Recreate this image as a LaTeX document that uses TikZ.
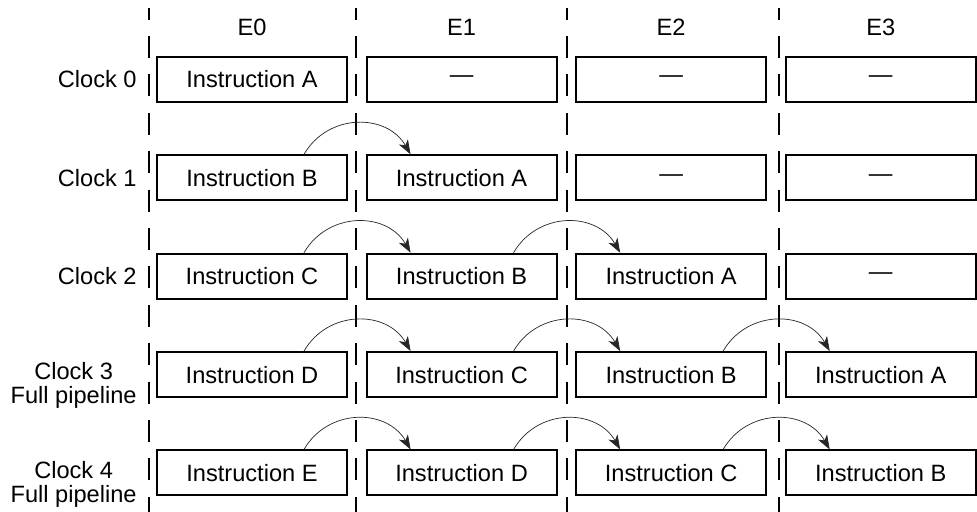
\documentclass[tikz,border=0pt]{standalone}
\usepackage{fontspec}
\setmainfont{Liberation Sans}
\usetikzlibrary{matrix,positioning,arrows.meta}

\begin{document}
\begin{tikzpicture}[font=\fontsize{16.8}{17}\selectfont]

  \tikzstyle{stage} = [draw, rectangle, minimum width=4.75cm, minimum height=1.125cm, line width=1.4pt, inner sep=0pt]
  \tikzstyle{divider} = [line width=1.4pt, dash pattern=on 0.55cm off 0.41cm, dash phase=0.26cm]
  \tikzstyle{hop} = [-{Stealth[length=0.36cm,width=0.26cm,inset=0.1cm]}, line width=0.5pt, black!85]

  \useasboundingbox (0,0) rectangle (24.425,-12.8);

  % stage boundaries
  \draw[divider] (3.725,-0.2) -- (3.725,-12.8);
  \draw[divider] (8.9,-0.2) -- (8.9,-12.8);
  \draw[divider] (14.175,-0.2) -- (14.175,-12.8);
  \draw[divider] (19.475,-0.2) -- (19.475,-12.8);

  \matrix (pipe) [matrix of nodes, column sep=0.44cm, row sep=1.285cm,
                  anchor=pipe-1-1.center, nodes={stage, anchor=center}] at (6.3,-1.9875)
  {
    Instruction A & — & — & — \\ %Clock 0
    Instruction B & Instruction A & — & — \\ %Clock 1
    Instruction C & Instruction B & Instruction A & — \\ %Clock 2
    Instruction D & Instruction C & Instruction B & Instruction A \\ %Clock 3
    Instruction E & Instruction D & Instruction C & Instruction B \\ %Clock 4
  };

  \node[above=0.38cm of pipe-1-1] (e0) {E0};
  \node[above=0.38cm of pipe-1-2] (e1) {E1};
  \node[above=0.38cm of pipe-1-3] (e2) {E2};
  \node[above=0.38cm of pipe-1-4] (e3) {E3};

  \node[left=0.36cm of pipe-1-1] (clk0) {Clock 0};
  \node[left=0.36cm of pipe-2-1] (clk1) {Clock 1};
  \node[left=0.36cm of pipe-3-1] (clk2) {Clock 2};
  \node[left=0.36cm of pipe-4-1, align=center, yshift=-0.28cm] (clk3) {Clock 3\\Full pipeline};
  \node[left=0.36cm of pipe-5-1, align=center, yshift=-0.28cm] (clk4) {Clock 4\\Full pipeline};

  \draw[hop] ([xshift=-1.1cm]pipe-2-1.north east) to[out=60,in=120,looseness=1.15] ([xshift=1.125cm]pipe-2-2.north west);
  \draw[hop] ([xshift=-1.1cm]pipe-3-1.north east) to[out=60,in=120,looseness=1.15] ([xshift=1.125cm]pipe-3-2.north west);
  \draw[hop] ([xshift=-1.1cm]pipe-3-2.north east) to[out=60,in=120,looseness=1.15] ([xshift=1.125cm]pipe-3-3.north west);
  \draw[hop] ([xshift=-1.1cm]pipe-4-1.north east) to[out=60,in=120,looseness=1.15] ([xshift=1.125cm]pipe-4-2.north west);
  \draw[hop] ([xshift=-1.1cm]pipe-4-2.north east) to[out=60,in=120,looseness=1.15] ([xshift=1.125cm]pipe-4-3.north west);
  \draw[hop] ([xshift=-1.1cm]pipe-4-3.north east) to[out=60,in=120,looseness=1.15] ([xshift=1.125cm]pipe-4-4.north west);
  \draw[hop] ([xshift=-1.1cm]pipe-5-1.north east) to[out=60,in=120,looseness=1.15] ([xshift=1.125cm]pipe-5-2.north west);
  \draw[hop] ([xshift=-1.1cm]pipe-5-2.north east) to[out=60,in=120,looseness=1.15] ([xshift=1.125cm]pipe-5-3.north west);
  \draw[hop] ([xshift=-1.1cm]pipe-5-3.north east) to[out=60,in=120,looseness=1.15] ([xshift=1.125cm]pipe-5-4.north west);

\end{tikzpicture}
\end{document}
